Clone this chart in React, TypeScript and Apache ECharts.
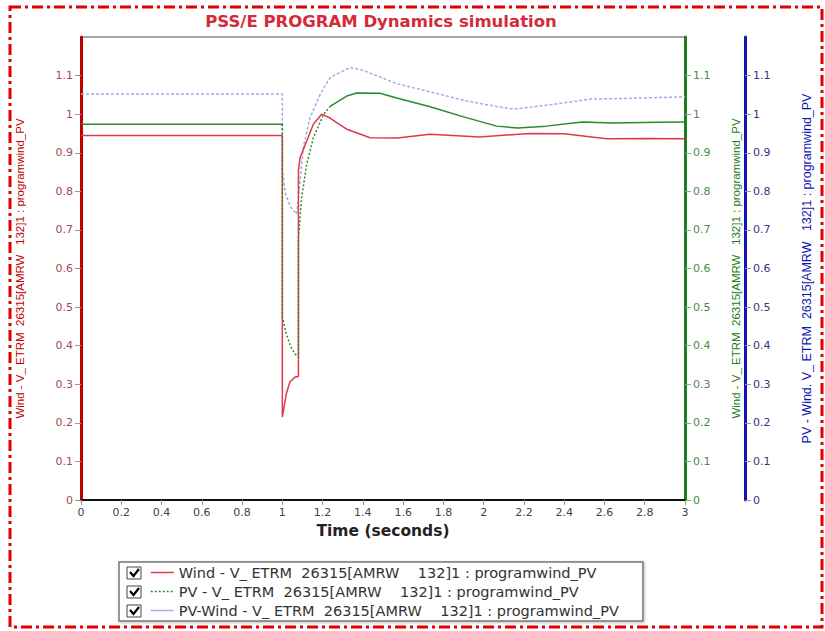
import React, { useEffect, useRef } from 'react';
import * as echarts from 'echarts';

const titleText = 'PSS/E PROGRAM Dynamics simulation';
const xAxisName = 'Time (seconds)';
const seriesNames = [
  'Wind - V_ ETRM  26315[AMRW    132]1 : programwind_PV',
  'PV - V_ ETRM  26315[AMRW    132]1 : programwind_PV',
  'PV-Wind - V_ ETRM  26315[AMRW    132]1 : programwind_PV',
];
const axisNames = [
  'Wind - V_ ETRM  26315[AMRW   132]1 : programwind_PV',
  'Wind - V_ ETRM  26315[AMRW   132]1 : programwind_PV',
  'PV - Wind. V_ ETRM  26315[AMRW   132]1 : programwind_PV',
];

// Wind (red)
const windT = [0, 1.0, 1.0, 1.02, 1.038, 1.063, 1.08, 1.08, 1.088, 1.121, 1.154, 1.195, 1.237, 1.28, 1.32, 1.436, 1.57, 1.734, 1.98, 2.23, 2.4, 2.61, 2.81, 3.0];
const windV = [0.945, 0.945, 0.215, 0.276, 0.306, 0.319, 0.32, 0.853, 0.887, 0.93, 0.974, 1.0, 0.99, 0.975, 0.961, 0.939, 0.938, 0.948, 0.941, 0.95, 0.949, 0.936, 0.937, 0.936];

// PV (green) steady parts and transient part
const pvT1 = [0, 1.0];
const pvV1 = [0.974, 0.974];
const pvTt = [1.0, 1.0, 1.02, 1.04, 1.06, 1.08, 1.08, 1.096, 1.121, 1.154, 1.204, 1.237];
const pvVt = [0.974, 0.474, 0.43, 0.4, 0.38, 0.37, 0.68, 0.784, 0.87, 0.939, 0.999, 1.02];
const pvT2 = [1.237, 1.32, 1.37, 1.485, 1.568, 1.734, 1.9, 2.065, 2.17, 2.31, 2.49, 2.64, 2.86, 3.0];
const pvV2 = [1.02, 1.047, 1.055, 1.054, 1.042, 1.019, 0.993, 0.969, 0.964, 0.969, 0.98, 0.977, 0.979, 0.98];

// PV-Wind (lavender)
const pvwT = [0, 1.0, 1.0, 1.015, 1.04, 1.072, 1.088, 1.104, 1.137, 1.187, 1.237, 1.336, 1.4, 1.568, 1.734, 1.9, 2.03, 2.146, 2.31, 2.53, 2.73, 3.0];
const pvwV = [1.052, 1.052, 0.855, 0.795, 0.76, 0.741, 0.827, 0.914, 0.99, 1.05, 1.095, 1.121, 1.114, 1.079, 1.058, 1.036, 1.023, 1.013, 1.023, 1.039, 1.041, 1.045];

const zip = (t: number[], v: number[]) => t.map((x, i) => [x, v[i]]);

const RED = '#e03848';
const GREEN = '#2a8a2a';
const LAV = '#a8aae2';
const FONT = 'DejaVu Sans';

export default function App() {
  const ref = useRef<HTMLDivElement>(null);
  useEffect(() => {
    if (!ref.current) return;
    const chart = echarts.init(ref.current, null, { renderer: 'svg' });
    const yCommon = (color: string, labelColor: string, offset: number, name: string, gap: number, pos: string, nameSize: number) => ({
      type: 'value',
      position: pos,
      offset,
      min: 0,
      max: 1.2,
      interval: 0.1,
      name,
      nameLocation: 'middle',
      nameGap: gap,
      nameTextStyle: { color, fontSize: nameSize, fontFamily: 'Liberation Sans' },
      axisLine: { show: true, onZero: false, lineStyle: { color, width: 3 } },
      axisTick: { show: true, length: 6, lineStyle: { color: '#999', width: 1 } },
      axisLabel: { color: labelColor, fontSize: 11, fontFamily: FONT, showMaxLabel: false, margin: 8 },
      splitLine: { show: false },
    });
    const checkbox = (cy: number) => [
      { type: 'rect', shape: { x: 127, y: cy - 6, width: 14, height: 12 }, style: { fill: '#fff', stroke: '#444', lineWidth: 1 } },
      { type: 'polyline', shape: { points: [[130, cy - 1], [133.5, cy + 3], [139, cy - 4]] }, style: { stroke: '#000', lineWidth: 2.2, fill: null } },
    ];
    chart.setOption({
      animation: false,
      backgroundColor: '#fff',
      grid: { left: 81, top: 37, right: 140, bottom: 131, show: true, borderColor: '#888', borderWidth: 1.5, backgroundColor: '#fff' },
      xAxis: {
        type: 'value',
        min: 0,
        max: 3,
        interval: 0.2,
        name: xAxisName,
        nameLocation: 'middle',
        nameGap: 22,
        nameTextStyle: { color: '#222', fontSize: 15.5, fontWeight: 'bold', fontFamily: FONT },
        axisLine: { show: true, onZero: false, lineStyle: { color: '#111', width: 2 } },
        axisTick: { show: true, length: 5, lineStyle: { color: '#999' } },
        axisLabel: { color: '#444', fontSize: 11, fontFamily: FONT, margin: 7 },
        splitLine: { show: false },
      },
      yAxis: [
        yCommon('#c00000', '#a84a4a', 0, axisNames[0], 55, 'left', 11.5),
        yCommon('#1e7e1e', '#4a8a4a', 0, axisNames[1], 45, 'right', 11.5),
        yCommon('#1414b4', '#343484', 60, axisNames[2], 55, 'right', 12.5),
      ],
      legend: {
        orient: 'vertical',
        left: 119,
        top: 562,
        padding: [3, 24, 3, 31],
        itemGap: 4,
        itemWidth: 23,
        itemHeight: 14,
        borderColor: '#777',
        borderWidth: 1.5,
        shadowColor: 'rgba(0,0,0,0.25)',
        shadowBlur: 3,
        shadowOffsetX: 1,
        shadowOffsetY: 1,
        backgroundColor: '#fff',
        selectedMode: false,
        itemStyle: { opacity: 0 },
        textStyle: { color: '#333', fontSize: 14.5, fontFamily: FONT },
        data: [
          { name: seriesNames[0], lineStyle: { color: RED, width: 1.5, type: 'solid' } },
          { name: seriesNames[1], lineStyle: { color: GREEN, width: 1.5, type: [2, 2] } },
          { name: seriesNames[2], lineStyle: { color: LAV, width: 1.5, type: 'solid' } },
        ],
      },
      series: [
        {
          name: seriesNames[0],
          type: 'line',
          yAxisIndex: 0,
          symbol: 'none',
          data: zip(windT, windV),
          lineStyle: { color: RED, width: 1.5 },
          itemStyle: { color: RED },
          z: 3,
        },
        {
          name: seriesNames[1],
          type: 'line',
          yAxisIndex: 1,
          symbol: 'none',
          data: [...zip(pvT1, pvV1), [1.1, '-'], ...zip(pvT2, pvV2)],
          lineStyle: { color: GREEN, width: 1.5 },
          itemStyle: { color: GREEN },
          z: 4,
        },
        {
          name: seriesNames[1],
          type: 'line',
          yAxisIndex: 1,
          symbol: 'none',
          data: zip(pvTt, pvVt),
          lineStyle: { color: GREEN, width: 1.5, type: [2, 2] },
          itemStyle: { color: GREEN },
          z: 4,
        },
        {
          name: seriesNames[2],
          type: 'line',
          yAxisIndex: 2,
          symbol: 'none',
          data: zip(pvwT, pvwV),
          lineStyle: { color: LAV, width: 1.5, type: [3, 2] },
          itemStyle: { color: LAV },
          z: 2,
        },
      ],
      graphic: [
        {
          type: 'text',
          x: 381,
          y: 21,
          style: {
            text: titleText,
            fill: '#d42a3a',
            fontSize: 16.5,
            fontWeight: 'bold',
            fontFamily: FONT,
            textAlign: 'center',
            textVerticalAlign: 'middle',
          },
        },
        {
          type: 'rect',
          shape: { x: 10, y: 7, width: 812, height: 620 },
          style: { fill: null, stroke: '#e00000', lineWidth: 3, lineDash: [11, 4, 3, 4] },
          z: 100,
          silent: true,
        },
        ...checkbox(573),
        ...checkbox(592),
        ...checkbox(611),
      ].map((g: any) => ({ ...g, z: g.z ?? 200 })),
    });
    return () => chart.dispose();
  }, []);
  return <div ref={ref} style={{ position: 'absolute', left: 0, top: 0, width: 825, height: 631 }} />;
}
